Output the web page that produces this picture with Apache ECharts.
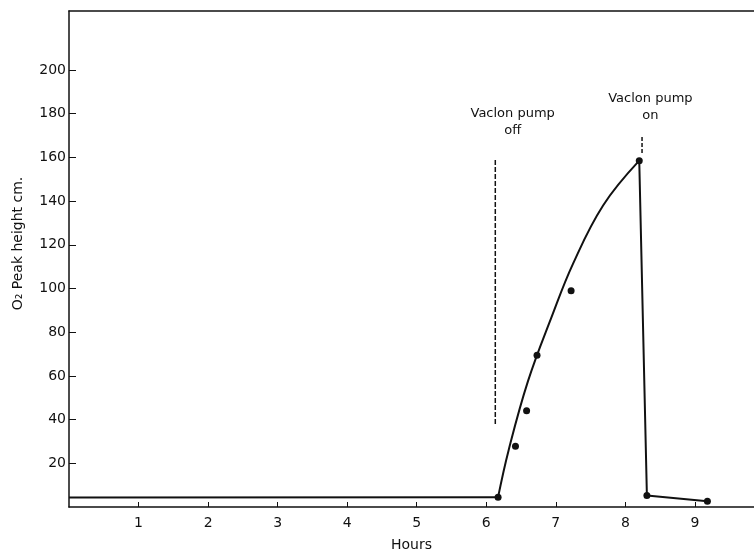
<!DOCTYPE html>
<html>
<head>
<meta charset="utf-8">
<script src="https://cdn.jsdelivr.net/npm/echarts@6/dist/echarts.min.js"></script>
<style>html,body{margin:0;padding:0;background:#fff}#c{width:754px;height:557px}</style>
</head>
<body>
<div id="c"></div>
<script>
// Baseline before the pump is switched off (hours, O2 peak height cm)
var baseHours  = [0, 6.17];
var baseHeight = [4.3, 4.5];
// Fitted rising curve
var curveHours  = [6.17, 6.32, 6.60, 6.94, 7.25, 7.68, 8.20];
var curveHeight = [4.5, 25.8, 57.6, 87, 111.5, 138, 158.5];
// Drop after the pump is switched on
var dropHours  = [8.20, 8.31, 9.18];
var dropHeight = [158.5, 5.3, 2.6];
// Measured points
var pointHours  = [6.17, 6.42, 6.58, 6.73, 7.22, 8.20, 8.31, 9.18];
var pointHeight = [4.5, 27.8, 44, 69.5, 99, 158.5, 5.3, 2.6];
// Pump markers: x position, dashed line from, to
var pumpOffX = 6.13, pumpOffFrom = 38, pumpOffTo = 159;
var pumpOnX = 8.24, pumpOnFrom = 162, pumpOnTo = 170;
// Annotation texts with anchor positions
var noteTexts = ['Vaclon pump\noff', 'Vaclon pump\non'];
var noteX = [6.38, 8.36];
var noteY = [176, 183];
// Tick labels
var yTicks = [20, 40, 60, 80, 100, 120, 140, 160, 180, 200];
var xTicks = [1, 2, 3, 4, 5, 6, 7, 8, 9];

var ink = '#111';
var font = 'DejaVu Sans';

var chart = echarts.init(document.getElementById('c'), null, {renderer: 'canvas'});

function zip(a, b) { return a.map(function (v, i) { return [v, b[i]]; }); }

chart.setOption({
  backgroundColor: '#fff',
  animation: false,
  grid: {left: 69, right: 0, top: 11, bottom: 47, containLabel: false},
  xAxis: [{
    type: 'value', min: 0, max: 9.85, position: 'bottom',
    name: 'Hours', nameLocation: 'middle', nameGap: 31,
    nameTextStyle: {color: ink, fontSize: 14, fontFamily: font},
    axisLine: {show: true, lineStyle: {color: ink, width: 1.5}},
    axisTick: {show: true, inside: true, length: 5, customValues: xTicks, lineStyle: {color: ink}},
    axisLabel: {customValues: xTicks, margin: 9, color: ink, fontSize: 14, fontFamily: font},
    splitLine: {show: false}
  }, {
    type: 'value', min: 0, max: 9.85, position: 'top',
    axisLine: {show: true, onZero: false, lineStyle: {color: ink, width: 1.5}},
    axisTick: {show: false}, axisLabel: {show: false}, splitLine: {show: false}
  }],
  yAxis: {
    type: 'value', min: 0, max: 227,
    name: 'O₂ Peak height cm.', nameLocation: 'middle', nameGap: 44, nameRotate: 90,
    nameTextStyle: {color: ink, fontSize: 14, fontFamily: font, padding: [0, 0, 0, 31]},
    axisLine: {show: true, lineStyle: {color: ink, width: 1.5}},
    axisTick: {show: true, inside: true, length: 7, customValues: yTicks, lineStyle: {color: ink}},
    axisLabel: {customValues: yTicks, margin: 3, color: ink, fontSize: 14, fontFamily: font},
    splitLine: {show: false}
  },
  series: [{
    type: 'line', data: zip(baseHours, baseHeight), showSymbol: false,
    lineStyle: {color: ink, width: 2}, z: 3
  }, {
    type: 'line', data: zip(curveHours, curveHeight), showSymbol: false,
    smooth: 0.4,
    lineStyle: {color: ink, width: 2}, z: 3
  }, {
    type: 'line', data: zip(dropHours, dropHeight), showSymbol: false,
    lineStyle: {color: ink, width: 2}, z: 3
  }, {
    type: 'scatter', data: zip(pointHours, pointHeight), symbolSize: 7,
    itemStyle: {color: ink, opacity: 1}, z: 4
  }, {
    type: 'line', data: [[pumpOffX, pumpOffFrom], [pumpOffX, pumpOffTo]], showSymbol: false,
    lineStyle: {color: ink, width: 1.5, type: [5, 2]}, z: 2
  }, {
    type: 'line', data: [[pumpOnX, pumpOnFrom], [pumpOnX, pumpOnTo]], showSymbol: false,
    lineStyle: {color: ink, width: 1.5, type: [4, 2]}, z: 2
  }, {
    type: 'scatter', symbolSize: 0, silent: true,
    itemStyle: {color: ink, opacity: 1},
    data: noteX.map(function (x, i) { return {value: [x, noteY[i]], name: noteTexts[i]}; }),
    label: {show: true, position: 'inside', formatter: '{b}', color: ink, fontSize: 13,
            fontFamily: font, align: 'center', lineHeight: 17, textBorderWidth: 0},
    z: 5
  }]
});
</script>
</body>
</html>
